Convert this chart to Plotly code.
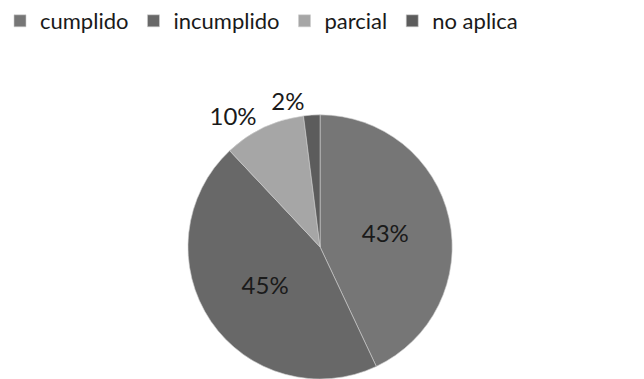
import plotly.graph_objects as go

labels = ["cumplido", "incumplido", "parcial", "no aplica"]
values = [43, 45, 10, 2]
colors = ["#767676", "#686868", "#a6a6a6", "#5c5c5c"]
# main trace labels and a second (transparent) layer for the smallest label,
# so the two outside labels are not pushed apart with a leader line
text_pos_main = ["inside", "inside", "outside", "none"]
text_pos_top = ["none", "none", "none", "outside"]

font = dict(family="Lato, Open Sans, sans-serif", size=24, color="#1a1a1a")
dom = dict(x=[0, 0.994], y=[0, 0.697])

fig = go.Figure()
fig.add_trace(go.Pie(
    labels=labels, values=values, sort=False, direction="clockwise", rotation=0,
    marker=dict(colors=colors, line=dict(color="#cfcfcf", width=0.6)),
    texttemplate="%{percent:.0%}",
    textposition=text_pos_main, insidetextorientation="horizontal",
    insidetextfont=font, outsidetextfont=font,
    domain=dom, showlegend=True,
))
fig.add_trace(go.Pie(
    labels=labels, values=values, sort=False, direction="clockwise", rotation=0,
    marker=dict(colors=["rgba(0,0,0,0)"] * len(values), line=dict(width=0)),
    texttemplate="%{percent:.0%}",
    textposition=text_pos_top, outsidetextfont=font,
    domain=dom, showlegend=False, hoverinfo="skip",
))
fig.update_layout(
    width=644, height=379, autosize=False,
    margin=dict(l=0, r=0, t=0, b=0, autoexpand=False),
    paper_bgcolor="white", plot_bgcolor="white",
    legend=dict(orientation="h", x=0.0, y=1.0, xanchor="left", yanchor="top",
                bgcolor="rgba(0,0,0,0)",
                font=dict(family="Lato, Open Sans, sans-serif", size=22, color="#1a1a1a"),
                itemwidth=30, traceorder="normal"),
    uniformtext=dict(minsize=20, mode="show"),
)
fig.write_html("out.html")
